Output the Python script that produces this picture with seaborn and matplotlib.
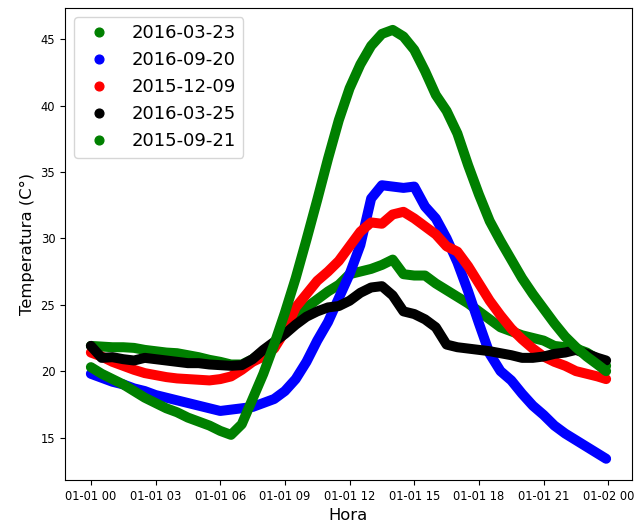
import pandas as pd
import matplotlib
matplotlib.use("Agg")
import matplotlib.pyplot as plt
import matplotlib.dates as mdates
from matplotlib.lines import Line2D
import seaborn as sns

# Hour of day for every reading
hours = [0, 0.5, 1, 1.5, 2, 2.5, 3, 3.5, 4, 4.5, 5, 5.5, 6, 6.5, 7, 7.5,
         8, 8.5, 9, 9.5, 10, 10.5, 11, 11.5, 12, 12.5, 13, 13.5, 14, 14.5,
         15, 15.5, 16, 16.5, 17, 17.5, 18, 18.5, 19, 19.5, 20, 20.5, 21,
         21.5, 22, 22.5, 23, 23.5, 23.9]

# Temperature (°C) per day
t_2016_03_23 = [21.9, 21.85, 21.8, 21.8, 21.75, 21.6, 21.5, 21.4, 21.35, 21.2,
                21.05, 20.85, 20.7, 20.5, 20.5, 20.9, 21.5, 22.1, 23.1, 24.1,
                24.8, 25.4, 26.0, 26.5, 27.3, 27.5, 27.7, 28.0, 28.4, 27.3,
                27.2, 27.2, 26.6, 26.1, 25.6, 25.1, 24.5, 23.9, 23.3, 23.0,
                22.7, 22.5, 22.3, 21.9, 21.8, 21.7, 21.4, 20.9, 20.4]
t_2016_09_20 = [19.8, 19.5, 19.2, 19.0, 18.7, 18.5, 18.2, 18.0, 17.8, 17.6,
                17.4, 17.2, 17.0, 17.1, 17.2, 17.3, 17.6, 17.9, 18.5, 19.4,
                20.7, 22.3, 23.7, 25.5, 27.3, 29.5, 33.0, 34.0, 33.9, 33.8,
                33.9, 32.4, 31.5, 30.0, 28.2, 26.0, 23.6, 21.3, 20.0, 19.3,
                18.3, 17.4, 16.7, 15.9, 15.3, 14.8, 14.3, 13.8, 13.4]
t_2015_12_09 = [21.4, 21.1, 20.7, 20.4, 20.1, 19.85, 19.7, 19.55, 19.45, 19.4,
                19.35, 19.3, 19.4, 19.6, 20.1, 20.7, 21.1, 21.7, 23.0, 24.8,
                25.8, 26.8, 27.5, 28.3, 29.4, 30.5, 31.2, 31.1, 31.8, 32.0,
                31.5, 30.9, 30.3, 29.4, 29.0, 27.9, 26.6, 25.3, 24.2, 23.2,
                22.4, 21.7, 21.1, 20.7, 20.4, 20.0, 19.8, 19.6, 19.4]
t_2016_03_25 = [21.9, 21.0, 21.05, 20.9, 20.8, 21.0, 20.9, 20.8, 20.7, 20.6,
                20.6, 20.5, 20.45, 20.4, 20.45, 20.9, 21.6, 22.2, 22.8, 23.5,
                24.1, 24.5, 24.8, 24.9, 25.3, 25.9, 26.3, 26.4, 25.7, 24.5,
                24.3, 23.9, 23.3, 22.0, 21.8, 21.7, 21.6, 21.5, 21.35, 21.2,
                21.0, 21.0, 21.1, 21.3, 21.4, 21.6, 21.3, 21.0, 20.8]
t_2015_09_21 = [20.3, 19.8, 19.4, 19.0, 18.5, 18.0, 17.6, 17.2, 16.9, 16.5,
                16.2, 15.9, 15.5, 15.2, 16.0, 17.9, 19.8, 22.0, 24.4, 27.0,
                29.9, 32.9, 36.0, 38.9, 41.3, 43.1, 44.5, 45.4, 45.7, 45.2,
                44.2, 42.6, 40.8, 39.6, 37.9, 35.5, 33.3, 31.3, 29.8, 28.4,
                27.0, 25.8, 24.7, 23.6, 22.6, 21.8, 21.1, 20.5, 20.0]

fechas = ["2016-03-23", "2016-09-20", "2015-12-09", "2016-03-25", "2015-09-21"]
colores = ["green", "blue", "red", "black", "green"]
series = [t_2016_03_23, t_2016_09_20, t_2015_12_09, t_2016_03_25, t_2015_09_21]

base = pd.Timestamp("1900-01-01")
horas = base + pd.to_timedelta(hours, unit="h")
df = pd.concat(
    [pd.DataFrame({"Hora": horas, "Temperatura": vals, "Fecha": fecha})
     for fecha, vals in zip(fechas, series)],
    ignore_index=True,
)

fig = plt.figure(figsize=(6.35, 5.22), dpi=100)
ax = fig.add_axes([65 / 635, 1 - 480 / 522, (632 - 65) / 635, (480 - 8) / 522])

sns.lineplot(data=df, x="Hora", y="Temperatura", hue="Fecha", hue_order=fechas,
             palette=dict(zip(fechas, colores)), linewidth=7.2, legend=False,
             solid_capstyle="round", solid_joinstyle="round", ax=ax)

ax.xaxis.set_major_locator(mdates.HourLocator(byhour=range(0, 24, 3)))
ax.xaxis.set_major_formatter(mdates.DateFormatter("%m-%d %H"))
ax.set_xlim(base - pd.Timedelta(hours=1.2), base + pd.Timedelta(hours=25.1))
ax.set_ylim(11.8, 47.35)
ax.tick_params(labelsize=8.3)
ax.set_xlabel("Hora", fontsize=11.8)
ax.set_ylabel("Temperatura (C°)", fontsize=11.8)

handles = [Line2D([], [], linestyle="", marker="o", markersize=6.3, color=c)
           for c in colores]
ax.legend(handles, fechas, loc="upper left", fontsize=13)

fig.savefig("out.png", dpi=100)
